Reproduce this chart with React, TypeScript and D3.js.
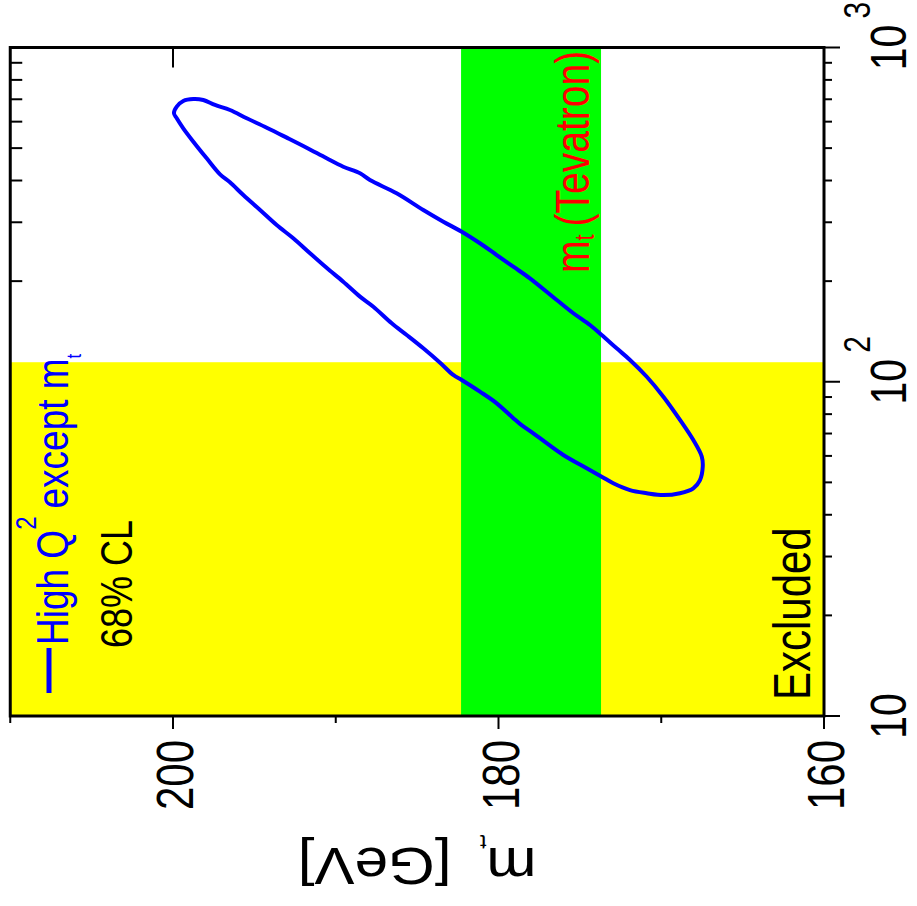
import React from 'react';
import * as d3 from 'd3';

// m_t axis (horizontal, GeV)
const mtMajorTicks = [200, 180, 160];
const mtMinorTicks = [210, 190, 170];
const mtTickLabels = ['200', '180', '160'];
// M_H axis (vertical, log, GeV)
const mhMajorTicks = [10, 100, 1000];
const mhMinorTicks = [20, 30, 40, 50, 60, 70, 80, 90, 200, 300, 400, 500, 600, 700, 800, 900];
const mhExponents = ['', '2', '3'];
// bands
const lepExcludedBelow = 114.4;
const tevatronBand = [173.7, 182.3];
// 68% CL contour (m_t, M_H)
const contourMt = [199.94, 199.77, 199.37, 198.75, 198.14, 197.42, 196.5, 195.47, 194.24, 193.01, 191.79, 190.56, 189.54, 188.51, 187.9, 186.26, 184.62, 183.39, 182.26, 181.14, 180.11, 179.09, 178.07, 176.42, 175.4, 174.38, 173.66, 172.74, 171.92, 170.89, 169.87, 168.85, 168.03, 167.51, 167.45, 167.62, 168.03, 168.85, 169.87, 170.89, 171.92, 172.95, 173.66, 174.58, 176.02, 177.04, 177.86, 178.68, 179.09, 180.11, 181.14, 182.26, 182.78, 183.59, 184.62, 185.64, 186.56, 187.69, 188.51, 189.54, 190.35, 190.76, 191.58, 192.61, 193.63, 194.65, 195.68, 196.5, 197.11, 197.93, 198.75, 199.37, 199.77];
const contourMh = [635.7, 665.2, 691.8, 701.4, 696.6, 673.0, 650.1, 614.1, 575.6, 537.4, 501.4, 466.1, 439.9, 420.3, 401.3, 366.3, 326.5, 301.2, 281.1, 259.6, 239.4, 220.9, 203.9, 175.6, 160.3, 147.8, 138.0, 125.9, 116.2, 103.5, 90.2, 76.9, 66.9, 59.7, 55.7, 50.8, 48.0, 46.4, 45.8, 46.4, 47.4, 49.7, 52.0, 55.1, 60.4, 65.5, 70.1, 74.8, 77.8, 86.2, 93.4, 101.2, 104.8, 114.0, 125.9, 138.0, 149.6, 167.7, 179.7, 199.2, 214.9, 223.5, 242.3, 268.7, 294.4, 326.5, 362.0, 395.0, 417.4, 466.1, 522.7, 573.2, 614.1];

const FONT = '"Liberation Sans", Arial, Helvetica, sans-serif';
const SY = 1.22;

function VText(props: any) {
  const { x, y, anchor = 'start', size, fill = '#000', children } = props;
  return (
    <text
      transform={`translate(${x},${y}) rotate(-90) scale(1,${SY})`}
      textAnchor={anchor}
      fontSize={size}
      fill={fill}
      fontFamily={FONT}
    >
      {children}
    </text>
  );
}

export default function App() {
  const W = 917;
  const H = 906;
  const x = d3.scaleLinear().domain([210, 160]).range([10.25, 824]);
  const y = d3.scaleLog().domain([10, 1000]).range([716, 47.5]);
  const x0 = x(210), x1 = x(160), yTop = y(1000), yBot = y(10);

  const pts: [number, number][] = contourMt.map((m, i) => [m, contourMh[i]]);
  const line = d3
    .line<[number, number]>()
    .x((d) => x(d[0]))
    .y((d) => y(d[1]))
    .curve(d3.curveCatmullRomClosed.alpha(0.5));

  return (
    <svg width={W} height={H} style={{ position: 'absolute', left: 0, top: 0, background: '#fff' }}>
      <rect x={0} y={0} width={W} height={H} fill="#fff" />
      {/* inner ticks (left & top) drawn under fills */}
      {mhMinorTicks.map((v) => (
        <line key={'lm' + v} x1={x0} x2={x0 + 12} y1={y(v)} y2={y(v)} stroke="#000" strokeWidth={2} />
      ))}
      {mhMajorTicks.map((v) => (
        <line key={'lM' + v} x1={x0} x2={x0 + 20} y1={y(v)} y2={y(v)} stroke="#000" strokeWidth={2} />
      ))}
      {mtMajorTicks.map((v) => (
        <line key={'tM' + v} x1={x(v)} x2={x(v)} y1={yTop} y2={yTop + 20} stroke="#000" strokeWidth={2} />
      ))}
      {/* LEP excluded region */}
      <rect x={x0} y={y(lepExcludedBelow)} width={x1 - x0} height={yBot - y(lepExcludedBelow)} fill="#ffff00" />
      {/* Tevatron band */}
      <rect
        x={x(tevatronBand[1])}
        y={yTop}
        width={x(tevatronBand[0]) - x(tevatronBand[1])}
        height={yBot - yTop}
        fill="#00ff00"
      />
      {/* contour */}
      <path d={line(pts) || ''} fill="none" stroke="#0000ff" strokeWidth={4} />

      {/* outer ticks (bottom & right) */}
      {mtMajorTicks.map((v) => (
        <line key={'bM' + v} x1={x(v)} x2={x(v)} y1={yBot} y2={yBot + 13} stroke="#000" strokeWidth={2} />
      ))}
      {mtMinorTicks.map((v) => (
        <line key={'bm' + v} x1={x(v)} x2={x(v)} y1={yBot} y2={yBot + 7} stroke="#000" strokeWidth={2} />
      ))}
      {mhMajorTicks.map((v) => (
        <line key={'rM' + v} x1={x1} x2={x1 + 16} y1={y(v)} y2={y(v)} stroke="#000" strokeWidth={2} />
      ))}
      {mhMinorTicks.map((v) => (
        <line key={'rm' + v} x1={x1} x2={x1 + 8} y1={y(v)} y2={y(v)} stroke="#000" strokeWidth={2} />
      ))}

      {/* frame */}
      <rect x={x0} y={yTop} width={x1 - x0} height={yBot - yTop} fill="none" stroke="#000" strokeWidth={3} />

      {/* bottom tick labels */}
      {mtMajorTicks.map((v, i) => (
        <VText key={'bl' + v} x={x(v) + 20} y={yBot + 24} anchor="end" size={42}>
          {mtTickLabels[i]}
        </VText>
      ))}
      {/* right tick labels */}
      {mhMajorTicks.map((v, i) => (
        <g key={'rl' + v}>
          <VText x={x1 + 82} y={y(v)} anchor="middle" size={41}>
            10
          </VText>
          {mhExponents[i] && (
            <VText x={x1 + 46} y={y(v) - 29} anchor="start" size={30}>
              {mhExponents[i]}
            </VText>
          )}
        </g>
      ))}

      {/* axis title */}
      <text
        transform={`translate(${(x0 + x1) / 2},848) rotate(180) scale(1.18,1)`}
        textAnchor="middle"
        fontSize={51}
        fontFamily={FONT}
        fill="#000"
      >
        m
        <tspan fontSize={20} dy={13}>t</tspan>
        <tspan fontSize={51} dy={-13} dx={24}>[GeV]</tspan>
      </text>

      {/* in-plot labels */}
      <VText x={810} y={700} size={42}>Excluded</VText>
      <VText x={589} y={273} size={39} fill="#ff0000">
        m<tspan fontSize={22} dy={4}>t</tspan>
        <tspan dy={-4} dx={8}>(Tevatron)</tspan>
      </VText>

      {/* legend */}
      <line x1={49} x2={49} y1={693} y2={648} stroke="#0000ff" strokeWidth={5} />
      <VText x={68} y={645} size={37} fill="#0000ff">
        High Q<tspan fontSize={24} dy={-26}>2</tspan>
        <tspan dy={26} dx={8}>except m</tspan>
        <tspan fontSize={17} dy={11}>t</tspan>
      </VText>
      <VText x={132} y={648} size={36}>68% CL</VText>
    </svg>
  );
}
